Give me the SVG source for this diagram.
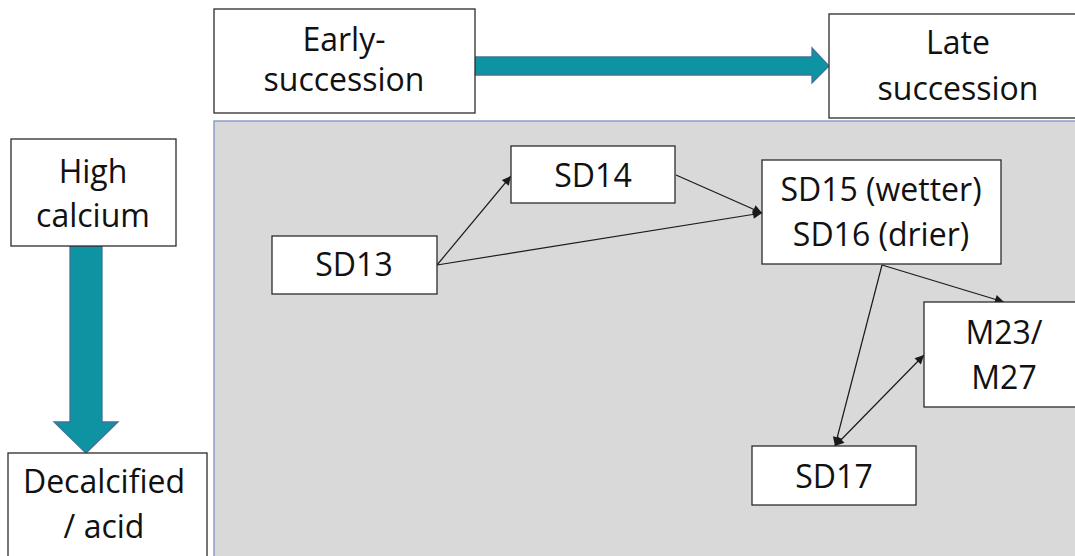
<svg xmlns="http://www.w3.org/2000/svg" width="1075" height="556" viewBox="0 0 1075 556">
<style>
.box{fill:#ffffff;stroke:#2b2b2b;stroke-width:1.3}
.t{font-family:"Open Sans","Noto Sans","Liberation Sans",sans-serif;font-size:32px;fill:#111;text-anchor:middle}
.big{fill:#0e93a2;stroke:#41719c;stroke-width:1.3}
.c{stroke:#1a1a1a;stroke-width:1.2;fill:none}
</style>
<defs>
<marker id="ah" viewBox="0 0 10 10" refX="10" refY="5" markerUnits="userSpaceOnUse" markerWidth="10" markerHeight="9" orient="auto-start-reverse">
<path d="M0,0 L10,5 L0,10 z" fill="#1a1a1a"/>
</marker>
</defs>
<rect width="1075" height="556" fill="#ffffff"/>
<rect id="panel" x="214" y="121" width="870" height="445" fill="#d9d9d9" stroke="#7a92c2" stroke-width="1.3"/>
<g id="arrow-succession"><path class="big" d="M475,57 L812,57 L812,48 L829,66 L812,83 L812,75 L475,75 z"/></g>
<g id="arrow-calcium"><path class="big" d="M70,246 L102,246 L102,422 L118,422 L86,453 L54,422 L70,422 z"/></g>
<g id="early"><rect class="box" x="214" y="9" width="261" height="104"/><text class="t" x="344" y="51">Early-</text><text class="t" x="344" y="91">succession</text></g>
<g id="late"><rect class="box" x="829" y="14" width="260" height="104"/><text class="t" x="958" y="54">Late</text><text class="t" x="958" y="100">succession</text></g>
<g id="highcalcium"><rect class="box" x="11" y="139" width="165" height="107"/><text class="t" x="93" y="183">High</text><text class="t" x="93" y="227">calcium</text></g>
<g id="decalcified"><rect class="box" x="8" y="453" width="199" height="110"/><text class="t" x="104" y="493">Decalcified</text><text class="t" x="104" y="538">/ acid</text></g>
<g id="connectors">
<line class="c" x1="437" y1="265" x2="511" y2="176" marker-end="url(#ah)"/>
<line class="c" x1="676" y1="175" x2="762" y2="213" marker-end="url(#ah)"/>
<line class="c" x1="437" y1="265" x2="762" y2="213" marker-end="url(#ah)"/>
<line class="c" x1="882" y1="265" x2="1004" y2="302" marker-end="url(#ah)"/>
<line class="c" x1="882" y1="265" x2="835" y2="446" marker-end="url(#ah)"/>
<line class="c" x1="835" y1="446" x2="924" y2="355" marker-start="url(#ah)" marker-end="url(#ah)"/>
</g>
<g id="sd13"><rect class="box" x="272" y="236" width="165" height="58"/><text class="t" x="354" y="276">SD13</text></g>
<g id="sd14"><rect class="box" x="511" y="146" width="164" height="57"/><text class="t" x="593" y="187">SD14</text></g>
<g id="sd15"><rect class="box" x="762" y="160" width="239" height="104"/><text class="t" x="881" y="201">SD15 (wetter)</text><text class="t" x="881" y="246">SD16 (drier)</text></g>
<g id="m23"><rect class="box" x="924" y="302" width="160" height="105"/><text class="t" x="1004" y="344">M23/</text><text class="t" x="1004" y="389">M27</text></g>
<g id="sd17"><rect class="box" x="752" y="446" width="164" height="59"/><text class="t" x="834" y="488">SD17</text></g>
</svg>
